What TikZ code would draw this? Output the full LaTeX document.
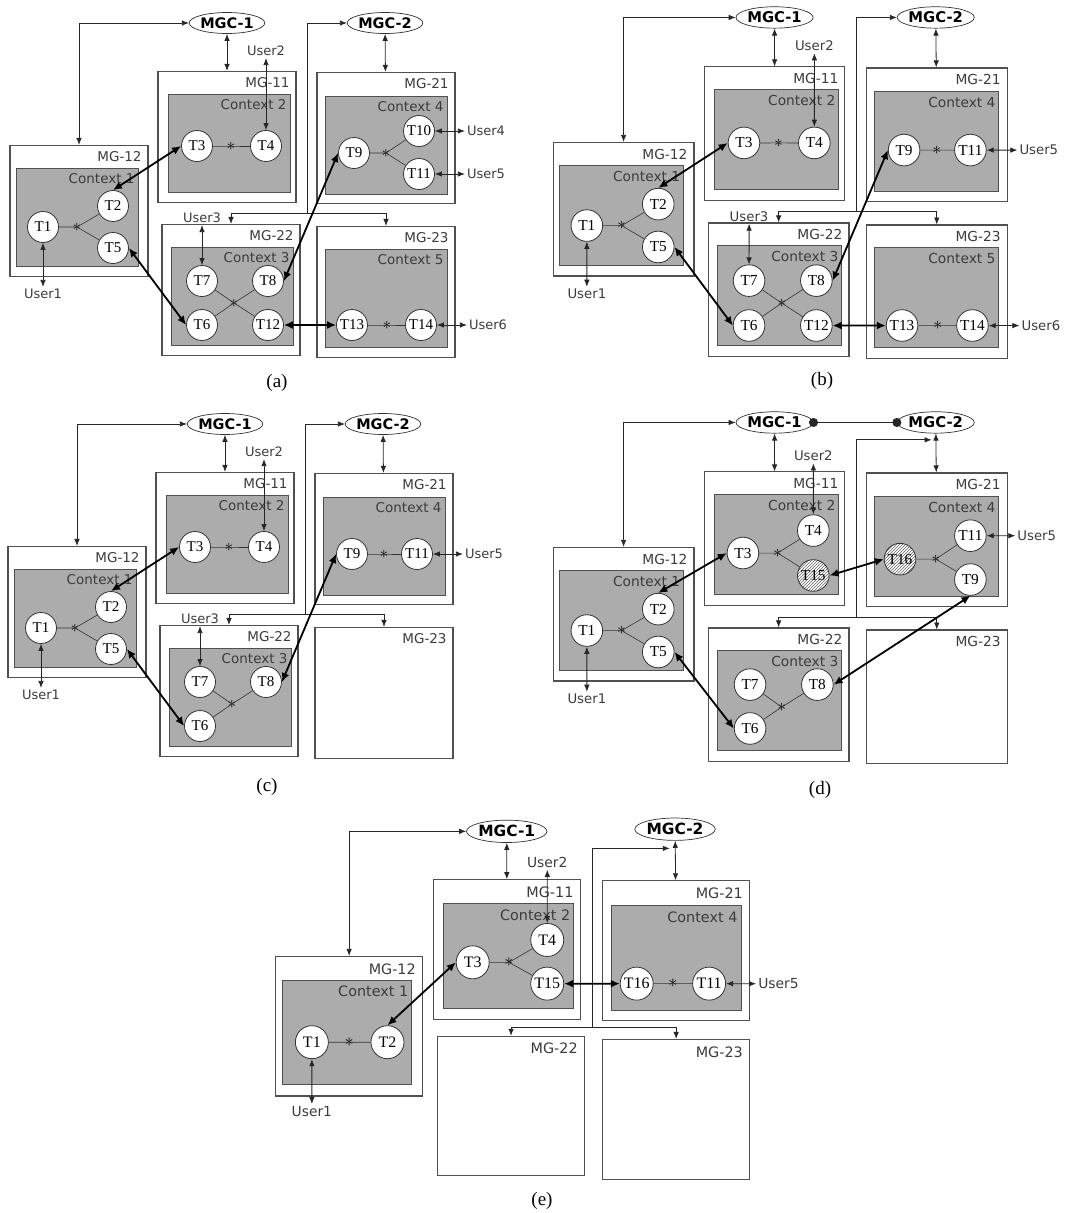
\documentclass[tikz,border=0pt]{standalone}
\usepackage{fontspec}
\setmainfont{Liberation Serif}
\newfontfamily\labelfont{DejaVu Sans}
\usetikzlibrary{positioning,arrows.meta,shapes.geometric,patterns}
\definecolor{CtxGray}{RGB}{172,172,172}
\definecolor{BoxLine}{RGB}{80,80,80}
\definecolor{LabelGray}{RGB}{60,60,60}

\begin{document}
\begin{tikzpicture}[
x=1pt,y=-1pt,
mg/.style={rectangle,draw=BoxLine,line width=1.1pt,fill=white,minimum width=138pt,minimum height=131pt,inner sep=0pt},
ctx/.style={rectangle,draw=BoxLine,line width=1pt,fill=CtxGray,minimum width=122pt,minimum height=98pt,inner sep=0pt},
mglbl/.style={anchor=north east,inner xsep=7pt,inner ysep=7pt,outer sep=0pt,text=LabelGray,font=\labelfont\fontsize{13.5}{15}\selectfont},
ctxlbl/.style={mglbl,inner xsep=4pt,inner ysep=6pt},
mgc/.style={ellipse,draw=black!80,fill=white,line width=0.7pt,minimum width=73pt,minimum height=21pt,inner sep=0pt,font=\labelfont\bfseries\fontsize{14.5}{15}\selectfont},
tn/.style={circle,draw=black!80,fill=white,line width=0.8pt,minimum size=31pt,inner sep=0pt,font=\fontsize{15}{15}\selectfont},
hatched/.style={tn,preaction={fill=white},pattern=north east lines,pattern color=black!60},
jn/.style={inner sep=0pt,font=\fontsize{19}{19}\selectfont},
user/.style={inner sep=2pt,text=LabelGray,font=\labelfont\fontsize{13}{15}\selectfont},
captext/.style={font=\fontsize{19}{21}\selectfont},
tl/.style={draw=black!80,line width=0.6pt},
ctl/.style={draw=black!85,line width=0.8pt,>={Latex[length=7pt,width=5.5pt]}},
data/.style={draw=black,line width=1.8pt,<->,>={Latex[length=9pt,width=8pt]}}
]
\useasboundingbox (0,0) rectangle (1072,1213);

% ---------------- (a)
\begin{scope}[name prefix=a-]
\node[mg,label={[mglbl]north east:MG-11}] (MG11) at (227,137) {};
\node[mg,label={[mglbl]north east:MG-21}] (MG21) at (386,138) {};
\node[mg,label={[mglbl]north east:MG-12}] (MG12) at (79,211) {};
\node[mg,label={[mglbl]north east:MG-22}] (MG22) at (231,290) {};
\node[mg,label={[mglbl]north east:MG-23}] (MG23) at (386,292) {};
\node[ctx,label={[ctxlbl]north east:Context 1}] (C1) at (77,217) {};
\node[ctx,label={[ctxlbl]north east:Context 2}] (C2) at (229,143) {};
\node[ctx,label={[ctxlbl]north east:Context 3}] (C3) at (232,296) {};
\node[ctx,label={[ctxlbl]north east:Context 4}] (C4) at (386,145) {};
\node[ctx,label={[ctxlbl]north east:Context 5}] (C5) at (386,298) {};
\node[mgc] (MGC1) at (227,23) {MGC-1};
\node[mgc] (MGC2) at (385,23) {MGC-2};
\coordinate (bus) at (307,213);
\draw[ctl,<->] (MGC1.west) -| (MG12.north);
\draw[ctl,<->] (MGC1) -- (MG11);
\draw[ctl,<->] (MGC2) -- (MG21);
\draw[ctl,<-] (MGC2.west) -| (bus);
\draw[ctl,->] (bus) -| (MG22.north);
\draw[ctl,->] (bus) -| (MG23.north);
\node[tn] (T1) at (43,227) {T1};
\node[tn] (T2) at (113,206) {T2};
\node[tn] (T5) at (113,248) {T5};
\node[jn] (j1) at (77,227) {$\ast$};
\node[tn] (T3) at (197,146) {T3};
\node[tn] (T4) at (266,146) {T4};
\node[jn] (j2) at (231,146) {$\ast$};
\node[tn] (T9) at (354,153) {T9};
\node[tn] (T10) at (419,131) {T10};
\node[tn] (T11) at (419,174) {T11};
\node[jn] (j4) at (386,153) {$\ast$};
\node[tn] (T7) at (202,281) {T7};
\node[tn] (T8) at (268,281) {T8};
\node[tn] (T6) at (202,325) {T6};
\node[tn] (T12) at (268,325) {T12};
\node[jn] (j3) at (234,303) {$\ast$};
\node[tn] (T13) at (352,325) {T13};
\node[tn] (T14) at (421,325) {T14};
\node[jn] (j5) at (387,325) {$\ast$};
\draw[tl] (T1) -- (j1.center) -- (T2) (j1.center) -- (T5);
\draw[tl] (T3) -- (j2.center) -- (T4);
\draw[tl] (T9) -- (j4.center) -- (T10) (j4.center) -- (T11);
\draw[tl] (T7) -- (j3.center) -- (T12) (T6) -- (j3.center) -- (T8);
\draw[tl] (T13) -- (j5.center) -- (T14);
\node[user,below=44pt of T1] (u1) {User1};
\node[user,above=72pt of T4] (u2) {User2};
\node[user,above=40pt of T7] (u3) {User3};
\node[user,right=30pt of T10] (u4) {User4};
\node[user,right=30pt of T11] (u5) {User5};
\node[user,right=30pt of T14] (u6) {User6};
\draw[ctl,<->] (T1) -- (u1);
\draw[ctl,<->] (T4) -- (u2);
\draw[ctl,<->] (T7) -- (u3);
\draw[ctl,<->] (T10) -- (u4);
\draw[ctl,<->] (T11) -- (u5);
\draw[ctl,<->] (T14) -- (u6);
\draw[data] (T2.north) -- (T3.west);
\draw[data] (T5.east) -- (T6.west);
\draw[data] (T8.east) -- (T9.west);
\draw[data] (T12) -- (T13);
\end{scope}

% ---------------- (b)
\begin{scope}[shift={(543,-6)},scale=1.02,transform shape,name prefix=b-]
\node[mg,label={[mglbl]north east:MG-11}] (MG11) at (227,137) {};
\node[mg,label={[mglbl]north east:MG-21}] (MG21) at (386,138) {};
\node[mg,label={[mglbl]north east:MG-12}] (MG12) at (79,211) {};
\node[mg,label={[mglbl]north east:MG-22}] (MG22) at (231,290) {};
\node[mg,label={[mglbl]north east:MG-23}] (MG23) at (386,292) {};
\node[ctx,label={[ctxlbl]north east:Context 1}] (C1) at (77,217) {};
\node[ctx,label={[ctxlbl]north east:Context 2}] (C2) at (229,143) {};
\node[ctx,label={[ctxlbl]north east:Context 3}] (C3) at (232,296) {};
\node[ctx,label={[ctxlbl]north east:Context 4}] (C4) at (386,145) {};
\node[ctx,label={[ctxlbl]north east:Context 5}] (C5) at (386,298) {};
\node[mgc] (MGC1) at (227,23) {MGC-1};
\node[mgc] (MGC2) at (385,23) {MGC-2};
\coordinate (bus) at (307,213);
\draw[ctl,<->] (MGC1.west) -| (MG12.north);
\draw[ctl,<->] (MGC1) -- (MG11);
\draw[ctl,<->] (MGC2) -- (MG21);
\draw[ctl,<-] (MGC2.west) -| (bus);
\draw[ctl,->] (bus) -| (MG22.north);
\draw[ctl,->] (bus) -| (MG23.north);
\node[tn] (T1) at (43,227) {T1};
\node[tn] (T2) at (113,206) {T2};
\node[tn] (T5) at (113,248) {T5};
\node[jn] (j1) at (77,227) {$\ast$};
\node[tn] (T3) at (197,146) {T3};
\node[tn] (T4) at (266,146) {T4};
\node[jn] (j2) at (231,146) {$\ast$};
\node[tn] (T9) at (354,153) {T9};
\node[tn] (T11) at (419,153) {T11};
\node[jn] (j4) at (386,153) {$\ast$};
\node[tn] (T7) at (202,281) {T7};
\node[tn] (T8) at (268,281) {T8};
\node[tn] (T6) at (202,325) {T6};
\node[tn] (T12) at (268,325) {T12};
\node[jn] (j3) at (234,303) {$\ast$};
\node[tn] (T13) at (352,325) {T13};
\node[tn] (T14) at (421,325) {T14};
\node[jn] (j5) at (387,325) {$\ast$};
\draw[tl] (T1) -- (j1.center) -- (T2) (j1.center) -- (T5);
\draw[tl] (T3) -- (j2.center) -- (T4);
\draw[tl] (T9) -- (j4.center) -- (T11);
\draw[tl] (T7) -- (j3.center) -- (T12) (T6) -- (j3.center) -- (T8);
\draw[tl] (T13) -- (j5.center) -- (T14);
\node[user,below=44pt of T1] (u1) {User1};
\node[user,above=72pt of T4] (u2) {User2};
\node[user,above=40pt of T7] (u3) {User3};
\node[user,right=30pt of T11] (u5) {User5};
\node[user,right=30pt of T14] (u6) {User6};
\draw[ctl,<->] (T1) -- (u1);
\draw[ctl,<->] (T4) -- (u2);
\draw[ctl,<->] (T7) -- (u3);
\draw[ctl,<->] (T11) -- (u5);
\draw[ctl,<->] (T14) -- (u6);
\draw[data] (T2.north) -- (T3.west);
\draw[data] (T5.east) -- (T6.west);
\draw[data] (T8.east) -- (T9.west);
\draw[data] (T12) -- (T13);
\end{scope}

% ---------------- (c)
\begin{scope}[shift={(-2,401)},name prefix=c-]
\node[mg,label={[mglbl]north east:MG-11}] (MG11) at (227,137) {};
\node[mg,label={[mglbl]north east:MG-21}] (MG21) at (386,138) {};
\node[mg,label={[mglbl]north east:MG-12}] (MG12) at (79,211) {};
\node[mg,label={[mglbl]north east:MG-22}] (MG22) at (231,290) {};
\node[mg,label={[mglbl]north east:MG-23}] (MG23) at (386,292) {};
\node[ctx,label={[ctxlbl]north east:Context 1}] (C1) at (77,217) {};
\node[ctx,label={[ctxlbl]north east:Context 2}] (C2) at (229,143) {};
\node[ctx,label={[ctxlbl]north east:Context 3}] (C3) at (232,296) {};
\node[ctx,label={[ctxlbl]north east:Context 4}] (C4) at (386,145) {};
\node[mgc] (MGC1) at (227,23) {MGC-1};
\node[mgc] (MGC2) at (385,23) {MGC-2};
\coordinate (bus) at (307,213);
\draw[ctl,<->] (MGC1.west) -| (MG12.north);
\draw[ctl,<->] (MGC1) -- (MG11);
\draw[ctl,<->] (MGC2) -- (MG21);
\draw[ctl,<-] (MGC2.west) -| (bus);
\draw[ctl,->] (bus) -| (MG22.north);
\draw[ctl,->] (bus) -| (MG23.north);
\node[tn] (T1) at (43,227) {T1};
\node[tn] (T2) at (113,206) {T2};
\node[tn] (T5) at (113,248) {T5};
\node[jn] (j1) at (77,227) {$\ast$};
\node[tn] (T3) at (197,146) {T3};
\node[tn] (T4) at (266,146) {T4};
\node[jn] (j2) at (231,146) {$\ast$};
\node[tn] (T9) at (354,153) {T9};
\node[tn] (T11) at (419,153) {T11};
\node[jn] (j4) at (386,153) {$\ast$};
\node[tn] (T7) at (202,281) {T7};
\node[tn] (T8) at (268,281) {T8};
\node[tn] (T6) at (202,325) {T6};
\node[jn] (j3) at (234,303) {$\ast$};
\draw[tl] (T1) -- (j1.center) -- (T2) (j1.center) -- (T5);
\draw[tl] (T3) -- (j2.center) -- (T4);
\draw[tl] (T9) -- (j4.center) -- (T11);
\draw[tl] (T7) -- (j3.center) (T6) -- (j3.center) -- (T8);
\node[user,below=44pt of T1] (u1) {User1};
\node[user,above=72pt of T4] (u2) {User2};
\node[user,above=40pt of T7] (u3) {User3};
\node[user,right=30pt of T11] (u5) {User5};
\draw[ctl,<->] (T1) -- (u1);
\draw[ctl,<->] (T4) -- (u2);
\draw[ctl,<->] (T7) -- (u3);
\draw[ctl,<->] (T11) -- (u5);
\draw[data] (T2.north) -- (T3.west);
\draw[data] (T5.east) -- (T6.west);
\draw[data] (T8.east) -- (T9.west);
\end{scope}

% ---------------- (d)
\begin{scope}[shift={(543,399)},scale=1.02,transform shape,name prefix=d-]
\node[mg,label={[mglbl]north east:MG-11}] (MG11) at (227,137) {};
\node[mg,label={[mglbl]north east:MG-21}] (MG21) at (386,138) {};
\node[mg,label={[mglbl]north east:MG-12}] (MG12) at (79,211) {};
\node[mg,label={[mglbl]north east:MG-22}] (MG22) at (231,290) {};
\node[mg,label={[mglbl]north east:MG-23}] (MG23) at (386,292) {};
\node[ctx,label={[ctxlbl]north east:Context 1}] (C1) at (77,217) {};
\node[ctx,label={[ctxlbl]north east:Context 2}] (C2) at (229,143) {};
\node[ctx,label={[ctxlbl]north east:Context 3}] (C3) at (232,296) {};
\node[ctx,label={[ctxlbl]north east:Context 4}] (C4) at (386,145) {};
\node[mgc] (MGC1) at (227,23) {MGC-1};
\node[mgc] (MGC2) at (385,23) {MGC-2};
\coordinate (bus) at (307,214);
\coordinate (c2in) at (381,40);
\draw[ctl,{Circle[length=9pt]}-{Circle[length=9pt]},shorten <=-4.5pt,shorten >=-4.5pt] (MGC1.east) -- (MGC2.west);
\draw[ctl,<->] (MGC1.west) -| (MG12.north);
\draw[ctl,<->] (MGC1) -- (MG11);
\draw[ctl,<->] (MGC2) -- (MG21);
\draw[ctl,<-] (c2in) -| (bus);
\draw[ctl,->] (bus) -| (MG22.north);
\draw[ctl,->] (bus) -| (MG23.north);
\node[tn] (T1) at (43,227) {T1};
\node[tn] (T2) at (113,206) {T2};
\node[tn] (T5) at (113,248) {T5};
\node[jn] (j1) at (77,227) {$\ast$};
\node[tn] (T3) at (196,151) {T3};
\node[tn] (T4) at (265,129) {T4};
\node[hatched] (T15) at (265,173) {T15};
\node[jn] (j2) at (230,151) {$\ast$};
\node[hatched] (T16) at (350,157) {T16};
\node[tn] (T11) at (419,134) {T11};
\node[tn] (T9) at (419,177) {T9};
\node[jn] (j4) at (385,157) {$\ast$};
\node[tn] (T7) at (203,280) {T7};
\node[tn] (T8) at (269,280) {T8};
\node[tn] (T6) at (203,323) {T6};
\node[jn] (j3) at (234,302) {$\ast$};
\draw[tl] (T1) -- (j1.center) -- (T2) (j1.center) -- (T5);
\draw[tl] (T3) -- (j2.center) -- (T4) (j2.center) -- (T15);
\draw[tl] (T16) -- (j4.center) -- (T11) (j4.center) -- (T9);
\draw[tl] (T7) -- (j3.center) (T6) -- (j3.center) -- (T8);
\node[user,below=44pt of T1] (u1) {User1};
\node[user,above=50pt of T4] (u2) {User2};
\node[user,right=28pt of T11] (u5) {User5};
\draw[ctl,<->] (T1) -- (u1);
\draw[ctl,<->] (T4) -- (u2);
\draw[ctl,<->] (T11) -- (u5);
\draw[data] (T2.north) -- (T3.west);
\draw[data] (T5.east) -- (T6.west);
\draw[data] (T15.east) -- (T16.west);
\draw[data] (T8.east) -- (T9.south);
\end{scope}

% ---------------- (e)
\begin{scope}[shift={(265,801.5)},scale=1.065,transform shape,name prefix=e-]
\node[mg,label={[mglbl]north east:MG-11}] (MG11) at (227,139) {};
\node[mg,label={[mglbl]north east:MG-21}] (MG21) at (386,140) {};
\node[mg,label={[mglbl]north east:MG-12}] (MG12) at (79,211) {};
\node[mg,label={[mglbl]north east:MG-22}] (MG22) at (231,286) {};
\node[mg,label={[mglbl]north east:MG-23}] (MG23) at (386,289) {};
\node[ctx,label={[ctxlbl]north east:Context 1}] (C1) at (77,217) {};
\node[ctx,label={[ctxlbl]north east:Context 2}] (C2) at (229,145) {};
\node[ctx,label={[ctxlbl]north east:Context 4}] (C4) at (386,147) {};
\node[mgc] (MGC1) at (227,28) {MGC-1};
\node[mgc] (MGC2) at (385,26) {MGC-2};
\coordinate (bus) at (307,212);
\coordinate (c2in) at (380,44);
\draw[ctl,<->] (MGC1.west) -| (MG12.north);
\draw[ctl,<->] (MGC1) -- (MG11);
\draw[ctl,<->] (MGC2) -- (MG21);
\draw[ctl,<-] (c2in) -| (bus);
\draw[ctl,->] (bus) -| (MG22.north);
\draw[ctl,->] (bus) -| (MG23.north);
\node[tn] (T1) at (44,226) {T1};
\node[tn] (T2) at (115,226) {T2};
\node[jn] (j1) at (79,226) {$\ast$};
\node[tn] (T3) at (195,151) {T3};
\node[tn] (T4) at (265,130) {T4};
\node[tn] (T15) at (265,171) {T15};
\node[jn] (j2) at (229,151) {$\ast$};
\node[tn] (T16) at (349,171) {T16};
\node[tn] (T11) at (417,171) {T11};
\node[jn] (j4) at (383,171) {$\ast$};
\draw[tl] (T1) -- (j1.center) -- (T2);
\draw[tl] (T3) -- (j2.center) -- (T4) (j2.center) -- (T15);
\draw[tl] (T16) -- (j4.center) -- (T11);
\node[user,below=42pt of T1] (u1) {User1};
\node[user,above=50pt of T4] (u2) {User2};
\node[user,right=28pt of T11] (u5) {User5};
\draw[ctl,<->] (T1) -- (u1);
\draw[ctl,<->] (T4) -- (u2);
\draw[ctl,<->] (T11) -- (u5);
\draw[data] (T2.north) -- (T3.west);
\draw[data] (T15) -- (T16);
\end{scope}

\node[captext] (capa) at (277,383) {(a)};
\node[captext] (capb) at (822,381) {(b)};
\node[captext] (capc) at (267,787) {(c)};
\node[captext] (capd) at (820,790) {(d)};
\node[captext] (cape) at (542,1201) {(e)};
\end{tikzpicture}
\end{document}
